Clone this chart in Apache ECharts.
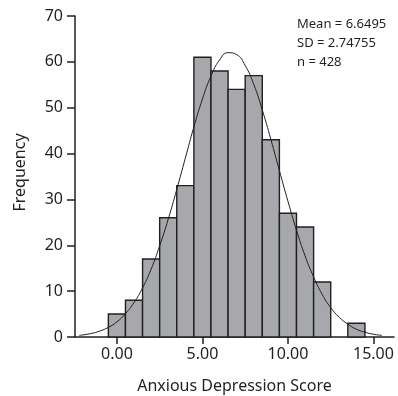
<!DOCTYPE html>
<html>
<head>
<meta charset="utf-8">
<script src="https://cdn.jsdelivr.net/npm/echarts@6/dist/echarts.min.js"></script>
<style>
html, body { margin: 0; padding: 0; background: #fff; }
#main { width: 398px; height: 396px; }
</style>
</head>
<body>
<div id="main"></div>
<script>
// bin centres (width 1) and counts
var binCenters = [0, 1, 2, 3, 4, 5, 6, 7, 8, 9, 10, 11, 12, 14];
var binCounts = [5, 8, 17, 26, 33, 61, 58, 54, 57, 43, 27, 24, 12, 3];

// normal curve
var curveX = [-2.2, -1.5, -1, -0.5, 0, 0.5, 1, 1.5, 2, 2.5, 3, 3.5, 4, 4.5, 5, 5.5, 6, 6.5, 7, 7.5,
              8, 8.5, 9, 9.5, 10, 10.5, 11, 11.5, 12, 12.5, 13, 13.5, 14, 14.5, 15, 15.5];
var curveY = [0.35, 0.76, 1.3, 2.1, 3.3, 5.1, 7.5, 10.7, 14.8, 19.9, 25.7, 32.2, 39.0, 45.8, 51.9, 56.9, 60.4, 62.0, 61.6, 59.2,
              55.1, 49.5, 43.1, 36.3, 29.6, 23.3, 17.7, 13.1, 9.3, 6.4, 4.3, 2.8, 1.7, 1.05, 0.6, 0.35];

var xTicks = [0, 5, 10, 15];
var statLines = ['Mean = 6.6495', 'SD = 2.74755', 'n = 428'];

var ink = '#231f20';
var font = 'Noto Sans';

var histData = [];
for (var i = 0; i < binCenters.length; i++) {
    histData.push([binCenters[i], binCounts[i]]);
}
var curveData = [];
for (var j = 0; j < curveX.length; j++) {
    curveData.push([curveX[j], curveY[j]]);
}

var myChart = echarts.init(document.getElementById('main'));
var option = {
    animation: false,
    grid: { left: 75, right: 4, top: 16, bottom: 59, outerBoundsMode: 'none' },
    xAxis: {
        type: 'value',
        min: -2.45,
        max: 16.2,
        name: 'Anxious Depression Score',
        nameLocation: 'middle',
        nameGap: 41,
        nameTextStyle: { fontFamily: font, fontSize: 16, color: ink },
        splitLine: { show: false },
        axisLine: { onZero: false, lineStyle: { color: ink, width: 1.5 } },
        axisTick: { show: true, customValues: xTicks, length: 7, lineStyle: { color: ink, width: 1.5 } },
        axisLabel: {
            customValues: xTicks,
            margin: 9,
            fontFamily: font, fontSize: 16, color: ink,
            formatter: function (v) { return v.toFixed(2); }
        }
    },
    yAxis: {
        type: 'value',
        min: 0,
        max: 70,
        interval: 10,
        name: 'Frequency',
        nameLocation: 'middle',
        nameGap: 47,
        nameTextStyle: { fontFamily: font, fontSize: 16, color: ink, padding: [0, 0, 0, 8] },
        splitLine: { show: false },
        axisLine: { show: true, onZero: false, lineStyle: { color: ink, width: 1.5 } },
        axisTick: { show: true, length: 8, lineStyle: { color: ink, width: 1.5 } },
        axisLabel: { margin: 12, fontFamily: font, fontSize: 16, color: ink }
    },
    graphic: [{
        type: 'text',
        left: 297,
        top: 15,
        style: {
            text: statLines.join('\n'),
            fontFamily: font,
            fontSize: 13,
            lineHeight: 19,
            fill: ink
        }
    }],
    series: [
        {
            type: 'custom',
            renderItem: function (params, api) {
                var x = api.value(0);
                var y = api.value(1);
                var p0 = api.coord([x - 0.5, y]);
                var p1 = api.coord([x + 0.5, 0]);
                return {
                    type: 'rect',
                    shape: { x: p0[0], y: p0[1], width: p1[0] - p0[0], height: p1[1] - p0[1] },
                    style: { fill: '#a7a8ac', stroke: ink, lineWidth: 1.4 }
                };
            },
            encode: { x: 0, y: 1 },
            data: histData,
            z: 2
        },
        {
            type: 'line',
            smooth: true,
            showSymbol: false,
            lineStyle: { color: ink, width: 1 },
            data: curveData,
            z: 3
        }
    ]
};
myChart.setOption(option);
</script>
</body>
</html>
